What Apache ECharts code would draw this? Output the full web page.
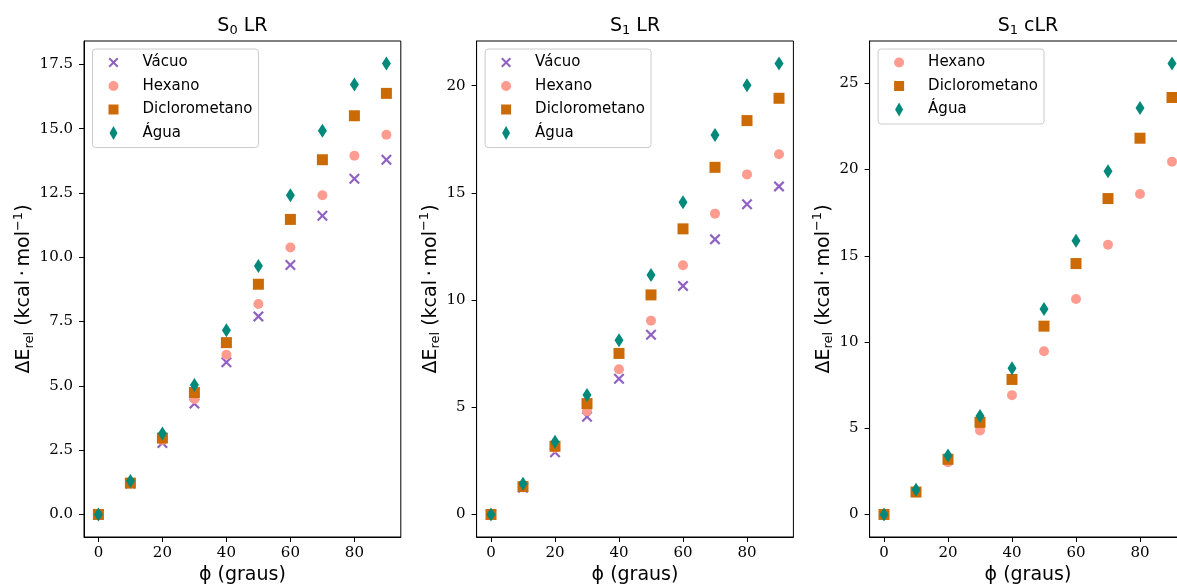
<!DOCTYPE html>
<html>
<head>
<meta charset="utf-8">
<script src="https://cdn.jsdelivr.net/npm/echarts@6/dist/echarts.min.js"></script>
<style>body { margin: 0; background: #fff; }</style>
</head>
<body>
<div id="main" style="width: 1177px; height: 584px;"></div>
<script type="text/javascript">
// angles (graus)
var phi = [0, 10, 20, 30, 40, 50, 60, 70, 80, 90];
var xTicks = [0, 20, 40, 60, 80];

// S0 LR
var s0Vacuo = [0, 1.20, 2.78, 4.31, 5.92, 7.70, 9.70, 11.61, 13.05, 13.79];
var s0Hexano = [0, 1.20, 2.90, 4.49, 6.21, 8.18, 10.38, 12.41, 13.95, 14.76];
var s0Dicloro = [0, 1.22, 2.97, 4.74, 6.68, 8.95, 11.47, 13.79, 15.50, 16.37];
var s0Agua = [0, 1.30, 3.15, 5.03, 7.16, 9.66, 12.41, 14.92, 16.72, 17.53];
var s0Ticks = [0, 2.5, 5, 7.5, 10, 12.5, 15, 17.5];

// S1 LR
var s1Vacuo = [0, 1.25, 2.90, 4.56, 6.33, 8.38, 10.66, 12.83, 14.47, 15.30];
var s1Hexano = [0, 1.30, 3.10, 4.82, 6.77, 9.04, 11.62, 14.03, 15.86, 16.80];
var s1Dicloro = [0, 1.30, 3.18, 5.17, 7.51, 10.24, 13.32, 16.19, 18.37, 19.41];
var s1Agua = [0, 1.43, 3.39, 5.57, 8.12, 11.17, 14.56, 17.70, 20.02, 21.03];
var s1Ticks = [0, 5, 10, 15, 20];

// S1 cLR
var cHexano = [0, 1.30, 3.03, 4.87, 6.92, 9.47, 12.50, 15.64, 18.58, 20.46];
var cDicloro = [0, 1.30, 3.20, 5.34, 7.83, 10.92, 14.55, 18.32, 21.82, 24.18];
var cAgua = [0, 1.43, 3.42, 5.71, 8.48, 11.92, 15.87, 19.90, 23.57, 26.15];
var cTicks = [0, 5, 10, 15, 20, 25];

var chart = echarts.init(document.getElementById('main'));

// marker shapes as paths so the legend keeps their proportions
var styles = {
    'Vácuo': { color: '#8f62c2', symbol: 'path://M0,1.4L1.4,0L5,3.6L8.6,0L10,1.4L6.4,5L10,8.6L8.6,10L5,6.4L1.4,10L0,8.6L3.6,5Z', size: 11 },
    'Hexano': { color: '#ff9c8f', symbol: 'path://M5,0A5,5,0,1,1,5,10A5,5,0,1,1,5,0Z', size: 10 },
    'Diclorometano': { color: '#cc6a06', symbol: 'path://M0,0L10,0L10,10L0,10Z', size: 11 },
    'Água': { color: '#03897a', symbol: 'path://M5,0L9,7L5,14L1,7Z', size: [9, 14] }
};

var panels = [
    { sub: '0', tag: ' LR', left: 84, gap: 45, ticks: s0Ticks, dec: 1,
      series: [['Vácuo', s0Vacuo], ['Hexano', s0Hexano], ['Diclorometano', s0Dicloro], ['Água', s0Agua]] },
    { sub: '1', tag: ' LR', left: 476.6, gap: 33, ticks: s1Ticks, dec: 0,
      series: [['Vácuo', s1Vacuo], ['Hexano', s1Hexano], ['Diclorometano', s1Dicloro], ['Água', s1Agua]] },
    { sub: '1', tag: ' cLR', left: 869.6, gap: 33, ticks: cTicks, dec: 0,
      series: [['Hexano', cHexano], ['Diclorometano', cDicloro], ['Água', cAgua]] }
];

var W = 316.8, TOP = 41, H = 496;
var grid = [], xAxis = [], yAxis = [], title = [], legend = [], series = [];

panels.forEach(function (p, i) {
    var ymax = 0;
    p.series.forEach(function (s) { ymax = Math.max(ymax, Math.max.apply(null, s[1])); });

    grid.push({ left: p.left, top: TOP, width: W, height: H, show: true, outerBoundsMode: 'none',
        borderColor: '#000', borderWidth: 1, backgroundColor: 'transparent' });

    title.push({
        text: '{a|S}{b|' + p.sub + '}{a|' + p.tag + '}',
        left: p.left + W / 2, top: 15, textAlign: 'center', padding: 0,
        textStyle: { fontWeight: 'normal', rich: {
            a: { fontFamily: 'DejaVu Sans', fontSize: 19, fontWeight: 'normal', color: '#000', lineHeight: 22, verticalAlign: 'middle' },
            b: { fontFamily: 'DejaVu Sans', fontSize: 13, fontWeight: 'normal', color: '#000', lineHeight: 10, verticalAlign: 'bottom' }
        } }
    });

    xAxis.push({
        type: 'value', gridIndex: i, min: -4.5, max: 94.5,
        name: 'ϕ (graus)', nameLocation: 'middle', nameGap: 28,
        nameTextStyle: { fontFamily: 'DejaVu Sans', fontSize: 19, color: '#000' },
        axisLine: { show: true, onZero: false, lineStyle: { color: '#000', width: 1 } },
        axisTick: { show: true, customValues: xTicks, length: 5, lineStyle: { color: '#000' } },
        axisLabel: { customValues: xTicks, margin: 9, fontFamily: 'DejaVu Serif', fontSize: 15, color: '#000' },
        splitLine: { show: false }
    });

    yAxis.push({
        type: 'value', gridIndex: i, min: -0.05 * ymax, max: 1.05 * ymax,
        name: '{n|ΔE}{s|rel}{n| (kcal\u2009·\u2009mol}{p|−1}{n|)}',
        nameLocation: 'middle', nameGap: p.gap,
        nameTextStyle: { rich: {
            n: { fontFamily: 'DejaVu Sans', fontSize: 19, color: '#000', lineHeight: 24, verticalAlign: 'middle' },
            s: { fontFamily: 'DejaVu Sans', fontSize: 13, color: '#000', lineHeight: 10, verticalAlign: 'bottom' },
            p: { fontFamily: 'DejaVu Sans', fontSize: 13, color: '#000', lineHeight: 10, verticalAlign: 'top' }
        } },
        axisLine: { show: true, onZero: false, lineStyle: { color: '#000', width: 1 } },
        axisTick: { show: true, customValues: p.ticks, length: 5, lineStyle: { color: '#000' } },
        axisLabel: { customValues: p.ticks, margin: 11, fontFamily: 'DejaVu Serif', fontSize: 15, color: '#000',
            formatter: (function (d) { return function (v) { return v.toFixed(d); }; })(p.dec) },
        splitLine: { show: false }
    });

    legend.push({
        orient: 'vertical', left: p.left + 8.5, top: 49,
        data: p.series.map(function (s) { return s[0]; }),
        selectedMode: false, symbolKeepAspect: true,
        itemWidth: 10, itemHeight: 14, itemGap: 6.5,
        padding: [5, 6, 6, 16],
        backgroundColor: 'rgba(255,255,255,0.8)', borderColor: '#cccccc', borderWidth: 1, borderRadius: 3,
        textStyle: { fontFamily: 'DejaVu Sans', fontSize: 15, color: '#000', lineHeight: 17, padding: [0, 0, 0, 19] }
    });

    p.series.forEach(function (s) {
        var st = styles[s[0]];
        series.push({
            name: s[0], type: 'scatter', xAxisIndex: i, yAxisIndex: i,
            symbol: st.symbol, symbolSize: st.size,
            itemStyle: { color: st.color, opacity: 1 },
            data: phi.map(function (x, k) { return [x, s[1][k]]; })
        });
    });
});

chart.setOption({
    animation: false,
    backgroundColor: '#fff',
    title: title,
    legend: legend,
    grid: grid,
    xAxis: xAxis,
    yAxis: yAxis,
    series: series
});
</script>
</body>
</html>
